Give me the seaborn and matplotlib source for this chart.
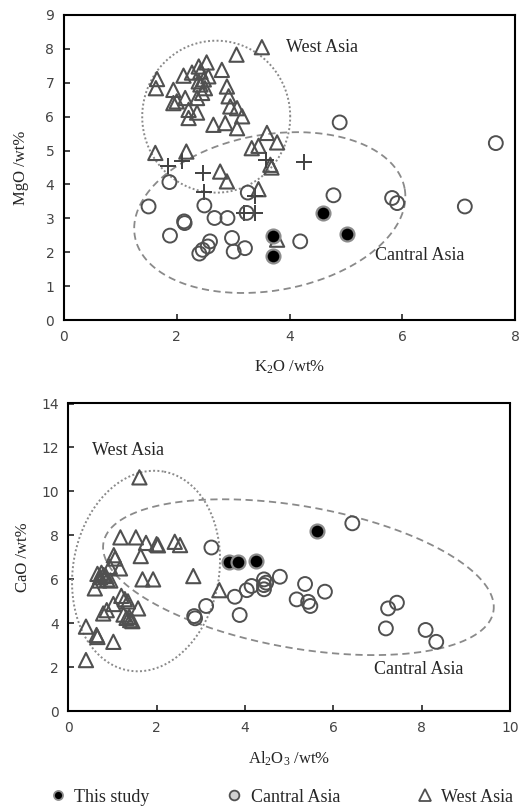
import numpy as np
import pandas as pd
import matplotlib
matplotlib.use("Agg")
import matplotlib.pyplot as plt
import seaborn as sns
from matplotlib.lines import Line2D

# ---- K2O vs MgO (top panel) ----
this_k2o = [3.70, 3.70, 4.60, 5.02]
this_mgo = [2.47, 1.88, 3.16, 2.54]

ca_k2o = [1.87, 1.50, 2.49, 2.13, 2.14, 1.88, 2.67, 2.90, 3.24, 3.26, 2.98, 3.01,
          3.21, 2.59, 2.55, 2.46, 2.40, 4.19, 4.89, 4.78, 5.82, 5.91, 7.11, 7.66]
ca_mgo = [4.07, 3.35, 3.38, 2.91, 2.86, 2.49, 3.01, 3.01, 3.16, 3.76, 2.42, 2.02,
          2.12, 2.32, 2.17, 2.07, 1.96, 2.32, 5.83, 3.68, 3.60, 3.45, 3.35, 5.22]

wa_k2o = [3.51, 3.06, 1.65, 1.63, 2.12, 2.27, 2.39, 2.53, 2.42, 2.56, 2.80, 2.39,
          2.50, 2.45, 2.36, 1.94, 1.94, 2.00, 2.15, 2.21, 2.21, 2.36, 2.89, 2.92,
          2.95, 3.07, 3.16, 2.65, 2.86, 3.07, 3.60, 3.45, 3.33, 3.78, 1.62, 2.17,
          2.77, 2.89, 3.45, 3.66, 3.68, 3.78, 2.42, 2.48]
wa_mgo = [8.05, 7.83, 7.11, 6.84, 7.21, 7.30, 7.48, 7.60, 7.33, 7.19, 7.38, 7.04,
          6.84, 6.70, 6.55, 6.79, 6.40, 6.45, 6.55, 6.20, 5.96, 6.12, 6.89, 6.60,
          6.30, 6.25, 6.01, 5.76, 5.81, 5.66, 5.52, 5.14, 5.07, 5.24, 4.93, 4.97,
          4.38, 4.09, 3.86, 4.58, 4.50, 2.37, 6.95, 7.10]

plus_k2o = [1.84, 2.09, 2.46, 2.49, 3.19, 3.39, 3.39, 3.59, 4.26]
plus_mgo = [4.55, 4.68, 4.35, 3.79, 3.16, 3.65, 3.16, 4.73, 4.66]

# ---- Al2O3 vs CaO (bottom panel) ----
this_al2o3 = [3.64, 3.85, 4.25, 5.63]
this_cao = [6.80, 6.80, 6.85, 8.21]

ca_al2o3 = [3.24, 3.12, 2.87, 2.85, 3.77, 3.88, 4.04, 4.15, 4.43, 4.43, 4.43, 4.48,
            4.79, 5.17, 5.36, 5.43, 5.48, 5.81, 6.43, 7.24, 7.44, 7.19, 8.09, 8.33]
ca_cao = [7.45, 4.79, 4.23, 4.33, 5.21, 4.38, 5.51, 5.70, 6.00, 5.74, 5.55, 5.85,
          6.12, 5.09, 5.79, 4.98, 4.79, 5.44, 8.55, 4.68, 4.94, 3.77, 3.70, 3.16]

wa_al2o3 = [0.40, 0.40, 0.64, 0.66, 1.02, 1.61, 1.18, 1.53, 1.76, 2.00, 2.03, 2.41,
            2.53, 1.03, 1.06, 1.64, 1.17, 0.94, 0.66, 0.72, 0.80, 0.88, 0.70, 0.85,
            0.95, 0.60, 1.68, 1.92, 2.83, 3.42, 1.20, 1.28, 1.35, 1.02, 0.87, 0.79,
            1.58, 1.25, 1.32, 1.40, 1.45, 1.38, 0.75]
wa_cao = [2.33, 3.85, 3.47, 3.38, 3.16, 10.64, 7.91, 7.91, 7.66, 7.60, 7.55, 7.71,
          7.56, 7.10, 6.95, 7.06, 6.50, 6.57, 6.25, 6.10, 6.20, 6.00, 5.95, 6.15,
          5.95, 5.59, 6.00, 6.00, 6.15, 5.51, 5.25, 5.10, 5.00, 4.88, 4.60, 4.45,
          4.68, 4.40, 4.25, 4.15, 4.10, 4.30, 6.30]

W, H = 522, 808
fig = plt.figure(figsize=(W / 100, H / 100), dpi=100)
sns.set_style("ticks")
plt.rcParams["font.family"] = ["Liberation Serif", "DejaVu Serif"]
plt.rcParams["mathtext.fontset"] = "custom"
plt.rcParams["mathtext.rm"] = "Liberation Serif"
plt.rcParams["mathtext.it"] = "Liberation Serif:italic"

GREY = "#404040"
LINE_GREY = "#8a8a8a"


def ellipse(ax, box, xlim, ylim, cx, cy, a_px, b_px, ang, **kw):
    # semi-axes given in pixels so the shape does not depend on axis scales
    sx = box[2] * W / (xlim[1] - xlim[0])
    sy = box[3] * H / (ylim[1] - ylim[0])
    t = np.linspace(0, 2 * np.pi, 300)
    r = np.deg2rad(ang)
    u = a_px * np.cos(t)
    v = b_px * np.sin(t)
    ax.plot(cx + (u * np.cos(r) - v * np.sin(r)) / sx,
            cy + (u * np.sin(r) + v * np.cos(r)) / sy, **kw)


def panel(box, xlim, ylim, xticks, yticks, data, xlabel, ylabel, xlab_y, ylab_x):
    ax = fig.add_axes(box)
    this_x, this_y, ca_x, ca_y, wa_x, wa_y, pl_x, pl_y = data
    df_ca = pd.DataFrame({"x": ca_x, "y": ca_y})
    df_wa = pd.DataFrame({"x": wa_x, "y": wa_y})
    df_this = pd.DataFrame({"x": this_x, "y": this_y})
    sns.scatterplot(data=df_wa, x="x", y="y", marker="^", s=105, facecolor="none",
                    edgecolor="#505050", linewidth=1.5, ax=ax, legend=False, zorder=3)
    if pl_x:
        df_pl = pd.DataFrame({"x": pl_x, "y": pl_y})
        sns.scatterplot(data=df_pl, x="x", y="y", marker="+", s=140, color=GREY,
                        linewidth=1.4, ax=ax, legend=False, zorder=3)
    sns.scatterplot(data=df_ca, x="x", y="y", marker="o", s=100, facecolor="none",
                    edgecolor="#505050", linewidth=1.4, ax=ax, legend=False, zorder=3)
    sns.scatterplot(data=df_this, x="x", y="y", marker="o", s=100, facecolor="black",
                    edgecolor="#8c8c8c", linewidth=1.6, ax=ax, legend=False, zorder=4)
    ax.set_xlim(xlim)
    ax.set_ylim(ylim)
    ax.set_xticks(xticks)
    ax.set_yticks(yticks)
    ax.tick_params(direction="in", length=4, width=1.2, labelsize=10,
                   labelcolor="#444444", pad=7)
    for lab in ax.get_xticklabels() + ax.get_yticklabels():
        lab.set_fontfamily("DejaVu Sans")
    for sp in ax.spines.values():
        sp.set_linewidth(1.5)
        sp.set_color("black")
    ax.set_xlabel(xlabel, fontsize=12)
    ax.set_ylabel(ylabel, fontsize=12)
    ax.xaxis.set_label_coords(0.5, xlab_y)
    ax.yaxis.set_label_coords(ylab_x, 0.5)
    return ax


top_box = [64 / W, 1 - 320 / H, 451 / W, 305 / H]
ax1 = panel(top_box, (0, 8), (0, 9), range(0, 9, 2), range(0, 10),
            (this_k2o, this_mgo, ca_k2o, ca_mgo, wa_k2o, wa_mgo, plus_k2o, plus_mgo),
            r"K$_{\mathrm{2}}$O /wt%", "MgO /wt%", -0.125, -0.078)
ellipse(ax1, top_box, (0, 8), (0, 9), 2.70, 6.0, 74, 76, 0,
        color=LINE_GREY, ls=(0, (1, 1.2)), lw=1.4, zorder=2)
ellipse(ax1, top_box, (0, 8), (0, 9), 3.65, 3.17, 137, 78, 10,
        color=LINE_GREY, ls=(0, (4, 2.5)), lw=1.3, zorder=2)
ax1.text(3.93, 8.03, "West Asia", fontsize=13, va="center", ha="left")
ax1.text(5.51, 1.89, "Cantral Asia", fontsize=13, va="center", ha="left")

bot_box = [68.3 / W, 1 - 711.3 / H, 441.7 / W, 307.8 / H]
ax2 = panel(bot_box, (0, 10), (0, 14), range(0, 11, 2), range(0, 15, 2),
            (this_al2o3, this_cao, ca_al2o3, ca_cao, wa_al2o3, wa_cao, [], []),
            r"Al$_{\mathrm{2}}$O$_{\mathrm{3}}$ /wt%", "CaO /wt%", -0.123, -0.085)
ellipse(ax2, bot_box, (0, 10), (0, 14), 1.76, 6.38, 101, 73, 80,
        color=LINE_GREY, ls=(0, (1, 1.2)), lw=1.4, zorder=2)
ellipse(ax2, bot_box, (0, 10), (0, 14), 5.21, 6.10, 198, 71, -10,
        color=LINE_GREY, ls=(0, (4, 2.5)), lw=1.3, zorder=2)
ax2.text(0.54, 11.87, "West Asia", fontsize=13, va="center", ha="left")
ax2.text(6.92, 1.88, "Cantral Asia", fontsize=13, va="center", ha="left")

handles = [
    Line2D([], [], ls="none", marker="o", ms=6.5, mfc="black", mec="#8c8c8c", mew=1.3),
    Line2D([], [], ls="none", marker="o", ms=7, mfc="#d0d0d0", mec="#505050", mew=1.3),
    Line2D([], [], ls="none", marker="^", ms=8, mfc="none", mec="#505050", mew=1.3),
]
fig.legend(handles, ["This study", "Cantral Asia", "West Asia"], loc="center",
           bbox_to_anchor=(0.54, 1 - 797 / H), ncol=3, frameon=False, fontsize=13,
           handlelength=0.8, handletextpad=0.5, columnspacing=4.3)

fig.savefig("out.png", dpi=100)
